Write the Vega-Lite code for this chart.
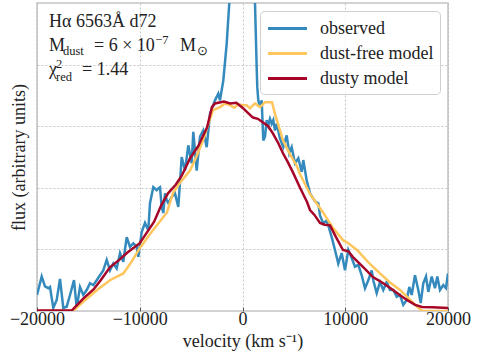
{
  "$schema": "https://vega.github.io/schema/vega-lite/v6.json",
  "width": 411,
  "height": 308,
  "autosize": "none",
  "padding": {"left": 37, "top": 3, "right": 31, "bottom": 43},
  "config": {
    "font": "Liberation Serif",
    "view": {"stroke": "#c4c4c4", "strokeWidth": 1.5},
    "axis": {"domain": false, "gridColor": "#b8b8b8", "gridDash": [2, 2], "gridWidth": 0.8, "labelFont": "Liberation Serif", "titleFont": "Liberation Serif", "labelColor": "#222", "titleColor": "#222", "titleFontWeight": "normal"}
  },
  "datasets": {
    "spectra": [
      {"series": "observed", "v": -20000, "flux": 0.26},
      {"series": "observed", "v": -19543, "flux": 0.56},
      {"series": "observed", "v": -19221, "flux": 0.40},
      {"series": "observed", "v": -18900, "flux": 0.37},
      {"series": "observed", "v": -18735, "flux": 0.39},
      {"series": "observed", "v": -18414, "flux": 0.05},
      {"series": "observed", "v": -18083, "flux": 0.18},
      {"series": "observed", "v": -17762, "flux": 0.52},
      {"series": "observed", "v": -17440, "flux": 0.05},
      {"series": "observed", "v": -17110, "flux": 0.07},
      {"series": "observed", "v": -16788, "flux": 0.26},
      {"series": "observed", "v": -16399, "flux": 0.50},
      {"series": "observed", "v": -16136, "flux": 0.05},
      {"series": "observed", "v": -15815, "flux": 0.39},
      {"series": "observed", "v": -15494, "flux": 0.26},
      {"series": "observed", "v": -15163, "flux": 0.34},
      {"series": "observed", "v": -14842, "flux": 0.45},
      {"series": "observed", "v": -14521, "flux": 0.42},
      {"series": "observed", "v": -14190, "flux": 0.50},
      {"series": "observed", "v": -13869, "flux": 0.58},
      {"series": "observed", "v": -13548, "flux": 0.66},
      {"series": "observed", "v": -13217, "flux": 0.83},
      {"series": "observed", "v": -12896, "flux": 0.66},
      {"series": "observed", "v": -12574, "flux": 0.77},
      {"series": "observed", "v": -12244, "flux": 0.69},
      {"series": "observed", "v": -11922, "flux": 0.94},
      {"series": "observed", "v": -11601, "flux": 0.80},
      {"series": "observed", "v": -11270, "flux": 1.20},
      {"series": "observed", "v": -10949, "flux": 1.04},
      {"series": "observed", "v": -10628, "flux": 1.10},
      {"series": "observed", "v": -10297, "flux": 1.04},
      {"series": "observed", "v": -10141, "flux": 0.88},
      {"series": "observed", "v": -9811, "flux": 1.28},
      {"series": "observed", "v": -9489, "flux": 1.43},
      {"series": "observed", "v": -9168, "flux": 1.31},
      {"series": "observed", "v": -9003, "flux": 1.75},
      {"series": "observed", "v": -8682, "flux": 2.01},
      {"series": "observed", "v": -8351, "flux": 1.96},
      {"series": "observed", "v": -8196, "flux": 1.99},
      {"series": "observed", "v": -8030, "flux": 2.01},
      {"series": "observed", "v": -7865, "flux": 1.69},
      {"series": "observed", "v": -7709, "flux": 1.59},
      {"series": "observed", "v": -7543, "flux": 1.91},
      {"series": "observed", "v": -7378, "flux": 1.80},
      {"series": "observed", "v": -7222, "flux": 1.75},
      {"series": "observed", "v": -6891, "flux": 1.85},
      {"series": "observed", "v": -6570, "flux": 1.91},
      {"series": "observed", "v": -6249, "flux": 1.69},
      {"series": "observed", "v": -5918, "flux": 2.50},
      {"series": "observed", "v": -5597, "flux": 2.28},
      {"series": "observed", "v": -5275, "flux": 2.69},
      {"series": "observed", "v": -4945, "flux": 2.40},
      {"series": "observed", "v": -4789, "flux": 2.91},
      {"series": "observed", "v": -4458, "flux": 2.28},
      {"series": "observed", "v": -4137, "flux": 2.83},
      {"series": "observed", "v": -3816, "flux": 2.93},
      {"series": "observed", "v": -3485, "flux": 2.66},
      {"series": "observed", "v": -3164, "flux": 3.20},
      {"series": "observed", "v": -2677, "flux": 3.42},
      {"series": "observed", "v": -2356, "flux": 3.53},
      {"series": "observed", "v": -2190, "flux": 3.42},
      {"series": "observed", "v": -1869, "flux": 3.74},
      {"series": "observed", "v": -1538, "flux": 4.34},
      {"series": "observed", "v": -1285, "flux": 5.0},
      {"series": "observed", "v": 0, "flux": 8.0},
      {"series": "observed", "v": 1216, "flux": 5.0},
      {"series": "observed", "v": 1381, "flux": 3.95},
      {"series": "observed", "v": 1440, "flux": 3.63},
      {"series": "observed", "v": 1537, "flux": 3.42},
      {"series": "observed", "v": 1702, "flux": 3.31},
      {"series": "observed", "v": 1868, "flux": 3.42},
      {"series": "observed", "v": 2023, "flux": 2.77},
      {"series": "observed", "v": 2189, "flux": 2.83},
      {"series": "observed", "v": 2354, "flux": 3.10},
      {"series": "observed", "v": 2510, "flux": 3.01},
      {"series": "observed", "v": 2676, "flux": 3.12},
      {"series": "observed", "v": 2841, "flux": 3.04},
      {"series": "observed", "v": 2997, "flux": 3.10},
      {"series": "observed", "v": 3162, "flux": 2.93},
      {"series": "observed", "v": 3328, "flux": 3.04},
      {"series": "observed", "v": 3649, "flux": 2.80},
      {"series": "observed", "v": 3970, "flux": 2.66},
      {"series": "observed", "v": 4300, "flux": 2.85},
      {"series": "observed", "v": 4553, "flux": 2.56},
      {"series": "observed", "v": 4787, "flux": 2.66},
      {"series": "observed", "v": 5108, "flux": 2.40},
      {"series": "observed", "v": 5430, "flux": 2.48},
      {"series": "observed", "v": 5761, "flux": 2.26},
      {"series": "observed", "v": 5916, "flux": 2.45},
      {"series": "observed", "v": 6247, "flux": 2.12},
      {"series": "observed", "v": 6568, "flux": 1.91},
      {"series": "observed", "v": 7055, "flux": 1.78},
      {"series": "observed", "v": 7376, "flux": 1.75},
      {"series": "observed", "v": 7542, "flux": 1.55},
      {"series": "observed", "v": 7863, "flux": 1.42},
      {"series": "observed", "v": 8194, "flux": 1.47},
      {"series": "observed", "v": 8350, "flux": 1.39},
      {"series": "observed", "v": 8680, "flux": 1.20},
      {"series": "observed", "v": 9001, "flux": 0.99},
      {"series": "observed", "v": 9323, "flux": 0.77},
      {"series": "observed", "v": 9653, "flux": 0.94},
      {"series": "observed", "v": 9975, "flux": 0.66},
      {"series": "observed", "v": 10296, "flux": 0.99},
      {"series": "observed", "v": 10627, "flux": 0.86},
      {"series": "observed", "v": 10948, "flux": 0.72},
      {"series": "observed", "v": 11269, "flux": 0.75},
      {"series": "observed", "v": 11600, "flux": 0.58},
      {"series": "observed", "v": 11921, "flux": 0.37},
      {"series": "observed", "v": 12243, "flux": 0.50},
      {"series": "observed", "v": 12574, "flux": 0.66},
      {"series": "observed", "v": 12729, "flux": 0.50},
      {"series": "observed", "v": 13060, "flux": 0.29},
      {"series": "observed", "v": 13381, "flux": 0.47},
      {"series": "observed", "v": 13702, "flux": 0.34},
      {"series": "observed", "v": 14033, "flux": 0.47},
      {"series": "observed", "v": 14354, "flux": 0.34},
      {"series": "observed", "v": 14675, "flux": 0.34},
      {"series": "observed", "v": 15006, "flux": 0.23},
      {"series": "observed", "v": 15327, "flux": 0.26},
      {"series": "observed", "v": 15648, "flux": 0.10},
      {"series": "observed", "v": 15979, "flux": 0.18},
      {"series": "observed", "v": 16232, "flux": 0.39},
      {"series": "observed", "v": 16466, "flux": 0.26},
      {"series": "observed", "v": 16787, "flux": 0.58},
      {"series": "observed", "v": 17109, "flux": 0.34},
      {"series": "observed", "v": 17342, "flux": 0.13},
      {"series": "observed", "v": 17595, "flux": 0.45},
      {"series": "observed", "v": 17858, "flux": 0.56},
      {"series": "observed", "v": 18082, "flux": 0.31},
      {"series": "observed", "v": 18413, "flux": 0.56},
      {"series": "observed", "v": 18734, "flux": 0.37},
      {"series": "observed", "v": 18958, "flux": 0.56},
      {"series": "observed", "v": 19220, "flux": 0.34},
      {"series": "observed", "v": 19541, "flux": 0.42},
      {"series": "observed", "v": 19804, "flux": 0.37},
      {"series": "observed", "v": 20000, "flux": 0.61},

      {"series": "dust-free model", "v": -20000, "flux": 0.0},
      {"series": "dust-free model", "v": -16500, "flux": 0.0},
      {"series": "dust-free model", "v": -15500, "flux": 0.15},
      {"series": "dust-free model", "v": -14160, "flux": 0.34},
      {"series": "dust-free model", "v": -12900, "flux": 0.50},
      {"series": "dust-free model", "v": -11600, "flux": 0.61},
      {"series": "dust-free model", "v": -10800, "flux": 0.80},
      {"series": "dust-free model", "v": -10000, "flux": 1.02},
      {"series": "dust-free model", "v": -9000, "flux": 1.25},
      {"series": "dust-free model", "v": -8200, "flux": 1.42},
      {"series": "dust-free model", "v": -7350, "flux": 1.60},
      {"series": "dust-free model", "v": -6760, "flux": 1.92},
      {"series": "dust-free model", "v": -6000, "flux": 2.10},
      {"series": "dust-free model", "v": -5110, "flux": 2.28},
      {"series": "dust-free model", "v": -4500, "flux": 2.50},
      {"series": "dust-free model", "v": -3840, "flux": 2.77},
      {"series": "dust-free model", "v": -3300, "flux": 3.05},
      {"series": "dust-free model", "v": -2870, "flux": 3.26},
      {"series": "dust-free model", "v": -2190, "flux": 3.31},
      {"series": "dust-free model", "v": -1700, "flux": 3.37},
      {"series": "dust-free model", "v": -1200, "flux": 3.34},
      {"series": "dust-free model", "v": -800, "flux": 3.30},
      {"series": "dust-free model", "v": -400, "flux": 3.36},
      {"series": "dust-free model", "v": 0, "flux": 3.34},
      {"series": "dust-free model", "v": 400, "flux": 3.34},
      {"series": "dust-free model", "v": 730, "flux": 3.29},
      {"series": "dust-free model", "v": 1220, "flux": 3.37},
      {"series": "dust-free model", "v": 1700, "flux": 3.31},
      {"series": "dust-free model", "v": 2190, "flux": 3.39},
      {"series": "dust-free model", "v": 2870, "flux": 3.39},
      {"series": "dust-free model", "v": 3160, "flux": 3.20},
      {"series": "dust-free model", "v": 3940, "flux": 2.77},
      {"series": "dust-free model", "v": 4600, "flux": 2.55},
      {"series": "dust-free model", "v": 5300, "flux": 2.35},
      {"series": "dust-free model", "v": 5600, "flux": 2.22},
      {"series": "dust-free model", "v": 6570, "flux": 1.90},
      {"series": "dust-free model", "v": 7840, "flux": 1.60},
      {"series": "dust-free model", "v": 8800, "flux": 1.35},
      {"series": "dust-free model", "v": 9780, "flux": 1.15},
      {"series": "dust-free model", "v": 10300, "flux": 1.10},
      {"series": "dust-free model", "v": 11140, "flux": 0.99},
      {"series": "dust-free model", "v": 12300, "flux": 0.78},
      {"series": "dust-free model", "v": 13380, "flux": 0.61},
      {"series": "dust-free model", "v": 14300, "flux": 0.47},
      {"series": "dust-free model", "v": 15330, "flux": 0.34},
      {"series": "dust-free model", "v": 16200, "flux": 0.20},
      {"series": "dust-free model", "v": 16980, "flux": 0.07},
      {"series": "dust-free model", "v": 17500, "flux": 0.0},
      {"series": "dust-free model", "v": 20000, "flux": 0.0},

      {"series": "dusty model", "v": -20000, "flux": 0.01},
      {"series": "dusty model", "v": -16600, "flux": 0.01},
      {"series": "dusty model", "v": -15500, "flux": 0.20},
      {"series": "dusty model", "v": -14500, "flux": 0.35},
      {"series": "dusty model", "v": -13800, "flux": 0.50},
      {"series": "dusty model", "v": -12900, "flux": 0.71},
      {"series": "dusty model", "v": -12000, "flux": 0.83},
      {"series": "dusty model", "v": -11200, "flux": 0.95},
      {"series": "dusty model", "v": -10000, "flux": 1.10},
      {"series": "dusty model", "v": -9200, "flux": 1.30},
      {"series": "dusty model", "v": -8600, "flux": 1.45},
      {"series": "dusty model", "v": -7900, "flux": 1.72},
      {"series": "dusty model", "v": -7250, "flux": 1.91},
      {"series": "dusty model", "v": -6500, "flux": 2.05},
      {"series": "dusty model", "v": -5900, "flux": 2.20},
      {"series": "dusty model", "v": -5100, "flux": 2.48},
      {"series": "dusty model", "v": -4300, "flux": 2.68},
      {"series": "dusty model", "v": -3450, "flux": 2.98},
      {"series": "dusty model", "v": -2970, "flux": 3.31},
      {"series": "dusty model", "v": -2680, "flux": 3.37},
      {"series": "dusty model", "v": -1800, "flux": 3.40},
      {"series": "dusty model", "v": -1200, "flux": 3.37},
      {"series": "dusty model", "v": -600, "flux": 3.38},
      {"series": "dusty model", "v": 0, "flux": 3.30},
      {"series": "dusty model", "v": 500, "flux": 3.22},
      {"series": "dusty model", "v": 1020, "flux": 3.14},
      {"series": "dusty model", "v": 1500, "flux": 3.12},
      {"series": "dusty model", "v": 2000, "flux": 3.06},
      {"series": "dusty model", "v": 2500, "flux": 3.00},
      {"series": "dusty model", "v": 2970, "flux": 2.88},
      {"series": "dusty model", "v": 3500, "flux": 2.72},
      {"series": "dusty model", "v": 3940, "flux": 2.56},
      {"series": "dusty model", "v": 4400, "flux": 2.42},
      {"series": "dusty model", "v": 4910, "flux": 2.25},
      {"series": "dusty model", "v": 5600, "flux": 2.00},
      {"series": "dusty model", "v": 6280, "flux": 1.77},
      {"series": "dusty model", "v": 6570, "flux": 1.64},
      {"series": "dusty model", "v": 7000, "flux": 1.56},
      {"series": "dusty model", "v": 7540, "flux": 1.43},
      {"series": "dusty model", "v": 8000, "flux": 1.40},
      {"series": "dusty model", "v": 8520, "flux": 1.39},
      {"series": "dusty model", "v": 9100, "flux": 1.20},
      {"series": "dusty model", "v": 9780, "flux": 0.99},
      {"series": "dusty model", "v": 10300, "flux": 0.97},
      {"series": "dusty model", "v": 10750, "flux": 0.875},
      {"series": "dusty model", "v": 11700, "flux": 0.72},
      {"series": "dusty model", "v": 12700, "flux": 0.55},
      {"series": "dusty model", "v": 13700, "flux": 0.45},
      {"series": "dusty model", "v": 14650, "flux": 0.34},
      {"series": "dusty model", "v": 15300, "flux": 0.26},
      {"series": "dusty model", "v": 16000, "flux": 0.18},
      {"series": "dusty model", "v": 16800, "flux": 0.10},
      {"series": "dusty model", "v": 17470, "flux": 0.065},
      {"series": "dusty model", "v": 18500, "flux": 0.06},
      {"series": "dusty model", "v": 20000, "flux": 0.05}
    ],
    "mainText": [
      {"label": "Hα 6563Å d72", "v": -18832, "flux": 4.603},
      {"label": "M", "v": -18832, "flux": 4.214},
      {"label": "= 6 × 10", "v": -14453, "flux": 4.214},
      {"label": "M", "v": -6083, "flux": 4.214},
      {"label": "χ", "v": -18832, "flux": 3.825},
      {"label": "= 1.44", "v": -15621, "flux": 3.825}
    ],
    "subText": [
      {"label": "dust", "v": -17470, "flux": 4.150},
      {"label": "−7", "v": -8500, "flux": 4.340},
      {"label": "⊙", "v": -4429, "flux": 4.150},
      {"label": "2", "v": -18151, "flux": 3.940},
      {"label": "red", "v": -18151, "flux": 3.728}
    ]
  },
  "layer": [
    {
      "data": {"name": "spectra"},
      "mark": {"type": "line", "strokeWidth": 2.5, "clip": true},
      "encoding": {
        "x": {"field": "v", "type": "quantitative", "scale": {"domain": [-20000, 20000], "nice": false},
          "axis": {"values": [-20000, -10000, 0, 10000, 20000], "format": "d", "title": "velocity (km s⁻¹)", "labelFontSize": 18, "titleFontSize": 18, "tickSize": -4, "tickColor": "#555", "labelPadding": 3, "titlePadding": 4, "labelFlush": false}},
        "y": {"field": "flux", "type": "quantitative", "scale": {"domain": [0, 5], "nice": false, "zero": false},
          "axis": {"values": [1, 2, 3, 4], "labels": false, "ticks": false, "title": "flux (arbitrary units)", "titleFontSize": 18, "titlePadding": 9}},
        "color": {"field": "series", "type": "nominal",
          "scale": {"domain": ["observed", "dust-free model", "dusty model"], "range": ["#348ABD", "#FFC65D", "#A60628"]},
          "legend": {"title": null, "orient": "top-right", "offset": 8, "symbolType": "M-2,0H2", "symbolSize": 380, "symbolOffset": 10, "symbolStrokeWidth": 3, "labelFontSize": 18, "labelFont": "Liberation Serif", "labelColor": "#222", "labelOffset": 21, "rowPadding": 4, "padding": 6, "fillColor": "rgba(255,255,255,0.8)", "strokeColor": "#d0d0d0", "cornerRadius": 4}},
        "order": {"field": "v", "type": "quantitative"}
      }
    },
    {
      "data": {"name": "mainText"},
      "mark": {"type": "text", "align": "left", "baseline": "alphabetic", "fontSize": 18, "font": "Liberation Serif", "color": "#222"},
      "encoding": {
        "x": {"field": "v", "type": "quantitative"},
        "y": {"field": "flux", "type": "quantitative"},
        "text": {"field": "label"}
      }
    },
    {
      "data": {"name": "subText"},
      "mark": {"type": "text", "align": "left", "baseline": "alphabetic", "fontSize": 12.5, "font": "Liberation Serif", "color": "#222"},
      "encoding": {
        "x": {"field": "v", "type": "quantitative"},
        "y": {"field": "flux", "type": "quantitative"},
        "text": {"field": "label"}
      }
    }
  ]
}
